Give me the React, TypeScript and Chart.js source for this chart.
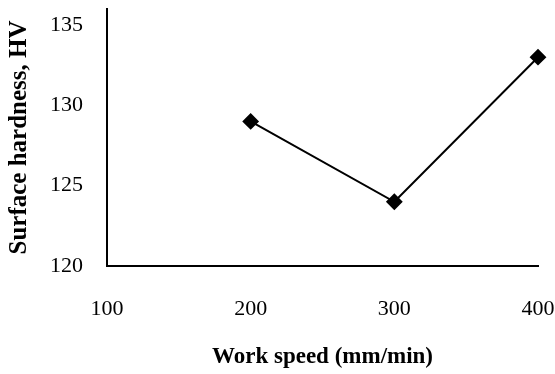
import React, { useEffect, useRef } from "react";
import { Chart, registerables } from "chart.js";

Chart.register(...registerables);

const workSpeed = [200, 300, 400];
const hardness = [129, 124, 133];
const xTicks = [100, 200, 300, 400];
const yTicks = [120, 125, 130, 135];

const zeroPad = (s: any) => {
  s.paddingLeft = 0;
  s.paddingRight = 0;
  s.paddingTop = 0;
  s.paddingBottom = 0;
};

export default function App() {
  const ref = useRef<HTMLCanvasElement>(null);
  useEffect(() => {
    if (!ref.current) return;
    const font = "'Liberation Serif', 'Times New Roman', serif";
    const chart = new Chart(ref.current, {
      type: "scatter",
      data: {
        datasets: [
          {
            data: workSpeed.map((x, i) => ({ x, y: hardness[i] })),
            showLine: true,
            borderColor: "#000",
            backgroundColor: "#000",
            borderWidth: 2,
            pointStyle: "rectRot",
            pointRadius: 7,
            pointHoverRadius: 7,
            clip: false,
          },
        ],
      },
      options: {
        animation: false,
        responsive: false,
        maintainAspectRatio: false,
        layout: { padding: { top: 6, right: 17, left: 0, bottom: 0 } },
        plugins: { legend: { display: false }, tooltip: { enabled: false } },
        scales: {
          x: {
            type: "linear",
            min: 100,
            max: 400,
            afterBuildTicks: (s: any) => {
              s.ticks = xTicks.map((v) => ({ value: v }));
            },
            afterFit: (s: any) => {
              s.height = 108;
              zeroPad(s);
            },
            grid: { display: false, drawTicks: false },
            border: { display: true, color: "#000", width: 2 },
            ticks: { color: "#000", font: { family: font, size: 22 }, padding: 30, maxRotation: 0 },
            title: {
              display: true,
              text: "Work speed (mm/min)",
              color: "#000",
              font: { family: font, size: 23, weight: "bold" },
              padding: { top: 0, bottom: 3 },
            },
          },
          y: {
            type: "linear",
            min: 120,
            max: 136,
            afterBuildTicks: (s: any) => {
              s.ticks = yTicks.map((v) => ({ value: v }));
            },
            afterFit: (s: any) => {
              s.width = 107;
              zeroPad(s);
            },
            grid: { display: false, drawTicks: false },
            border: { display: true, color: "#000", width: 2 },
            ticks: { color: "#000", font: { family: font, size: 22 }, padding: 24 },
            title: {
              display: true,
              text: "Surface hardness, HV",
              color: "#000",
              font: { family: font, size: 25, weight: "bold" },
              padding: { top: 5, bottom: 0 },
            },
          },
        },
      },
    });
    return () => chart.destroy();
  }, []);
  return (
    <div style={{ position: "fixed", left: 0, top: 0, width: 555, height: 374, background: "#fff" }}>
      <canvas ref={ref} width={555} height={374} style={{ width: 555, height: 374 }} />
    </div>
  );
}
